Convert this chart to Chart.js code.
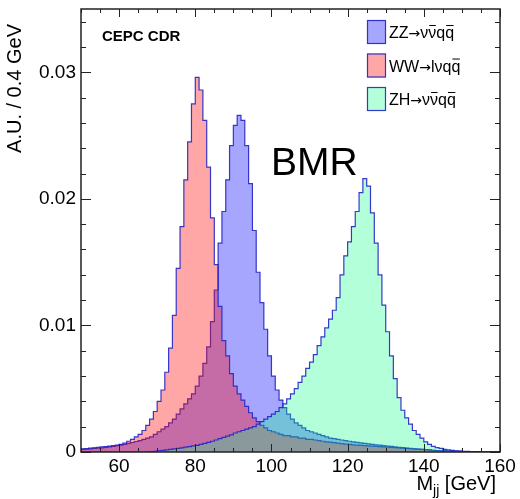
<!DOCTYPE html>
<html>
<head>
<meta charset="utf-8">
<script src="https://cdn.jsdelivr.net/npm/chart.js@4.4.0/dist/chart.umd.min.js"></script>
<style>
  html, body { margin: 0; padding: 0; background: #fff; }
</style>
</head>
<body>
<canvas id="mjj" width="520" height="499"></canvas>
<script>
// dijet mass, 1 GeV bins from 50 to 160 GeV, heights in A.U. / 0.4 GeV
const binLow = 50;
const binHigh = 160;

const zzVals = [
  0.0002, 0.00022, 0.00025, 0.00028, 0.0003, 0.00033, 0.00036, 0.0004, 0.00045, 0.0005,
  0.00055, 0.0006, 0.00068, 0.00075, 0.00083, 0.0009, 0.001, 0.0011, 0.0012, 0.0014,
  0.0016, 0.0018, 0.002, 0.0023, 0.0026, 0.003, 0.0034, 0.0038, 0.0042, 0.0046,
  0.0052, 0.006, 0.007, 0.0083, 0.0103, 0.0128, 0.0165, 0.019, 0.0215, 0.0242,
  0.0258, 0.0266, 0.0262, 0.0242, 0.0212, 0.0175, 0.0142, 0.0118, 0.0097, 0.0076,
  0.006, 0.0049, 0.0041, 0.0035, 0.003, 0.0026, 0.0023, 0.0021, 0.0019, 0.0017,
  0.0016, 0.0015, 0.0014, 0.0013, 0.0012, 0.0011, 0.00105, 0.001, 0.00095, 0.0009,
  0.00085, 0.0008, 0.00076, 0.00072, 0.00068, 0.00064, 0.0006, 0.00057, 0.00054, 0.0005,
  0.00047, 0.00044, 0.0004, 0.00037, 0.00034, 0.00031, 0.00028, 0.00025, 0.00022, 0.0002,
  0.00018, 0.00016, 0.00014, 0.00012, 0.0001, 0.00009, 0.00008, 0.00007, 0.00006, 0.00005,
  0.00004, 0.00004, 0.00003, 0.00003, 0.00003, 0.00002, 0.00002, 0.00002, 0.00002, 0.00002
];

const wwVals = [
  0.00025, 0.00027, 0.0003, 0.00033, 0.00036, 0.0004, 0.00043, 0.00046, 0.0005, 0.00055,
  0.0006, 0.0007, 0.00085, 0.001, 0.0012, 0.0014, 0.0017, 0.0021, 0.0026, 0.0032,
  0.004, 0.0049, 0.0063, 0.0082, 0.0108, 0.0145, 0.0178, 0.0215, 0.0245, 0.0275,
  0.0296, 0.0286, 0.0262, 0.0225, 0.0185, 0.0148, 0.0115, 0.0088, 0.0076, 0.0062,
  0.0052, 0.0046, 0.0041, 0.0036, 0.0031, 0.0027, 0.0024, 0.0021, 0.0019, 0.0017,
  0.0016, 0.0015, 0.0014, 0.0013, 0.0013, 0.0012, 0.0012, 0.0011, 0.0011, 0.001,
  0.001, 0.00095, 0.0009, 0.00085, 0.0008, 0.00078, 0.00074, 0.0007, 0.00066, 0.00062,
  0.0006, 0.00057, 0.00055, 0.00053, 0.0005, 0.00048, 0.00046, 0.00044, 0.00042, 0.0004,
  0.00038, 0.00036, 0.00034, 0.00032, 0.0003, 0.00028, 0.00026, 0.00024, 0.00022, 0.0002,
  0.00018, 0.00016, 0.00014, 0.00012, 0.0001, 0.00009, 0.00008, 0.00007, 0.00006, 0.00005,
  0.00004, 0.00004, 0.00003, 0.00003, 0.00003, 0.00002, 0.00002, 0.00002, 0.00002, 0.00002
];

const zhVals = [
  0, 0, 0, 0, 0, 0, 0, 0, 0, 0,
  0, 0, 0, 0, 0, 0, 0, 0, 0.00003, 0.00006,
  0.0001, 0.00013, 0.00016, 0.0002, 0.00024, 0.00028, 0.00033, 0.00038, 0.00043, 0.00048,
  0.00053, 0.0006, 0.00068, 0.00076, 0.00085, 0.00095, 0.00105, 0.00115, 0.00125, 0.00135,
  0.0015, 0.0016, 0.0017, 0.0018, 0.0019, 0.002, 0.0022, 0.0024, 0.0026, 0.0028,
  0.003, 0.0032, 0.0035, 0.0038, 0.0042, 0.0046, 0.005, 0.0055, 0.006, 0.0066,
  0.0071, 0.0077, 0.0084, 0.0091, 0.0098, 0.0105, 0.0112, 0.0122, 0.014, 0.0155,
  0.0166, 0.0178, 0.019, 0.0205, 0.0216, 0.021, 0.0189, 0.0165, 0.014, 0.0116,
  0.0095, 0.0076, 0.0058, 0.0043, 0.0033, 0.0027, 0.0022, 0.0017, 0.0014, 0.0011,
  0.0008, 0.0006, 0.00045, 0.00035, 0.00028, 0.0002, 0.00016, 0.00013, 0.0001, 0.00008,
  0.00006, 0.00005, 0.00004, 0.00003, 0.00003, 0.00002, 0.00002, 0.00001, 0.00001, 0.00001
];

const seriesNames = ['ZZ\u2192\u03bd\u03bd\u0305qq\u0305', 'WW\u2192l\u03bdqq\u0305', 'ZH\u2192\u03bd\u03bd\u0305qq\u0305'];
const xTicks = [60, 80, 100, 120, 140, 160];
const yTicks = [0, 0.01, 0.02, 0.03];

const FONT = '"Liberation Sans", Arial, Helvetica, sans-serif';
const lineCol = 'rgba(35,35,200,0.9)';

// bin edges -> step points
function toSteps(vals) {
  const w = (binHigh - binLow) / vals.length;
  const pts = vals.map((v, i) => ({ x: binLow + i * w, y: v }));
  pts.push({ x: binHigh, y: vals[vals.length - 1] });
  return pts;
}

// order: higher is drawn first, so ZZ sits at the bottom and ZH on top
function hist(label, vals, fill, order) {
  return {
    label: label,
    data: toSteps(vals),
    order: order,
    stepped: 'before',
    fill: 'origin',
    backgroundColor: fill,
    borderColor: lineCol,
    borderWidth: 1.2,
    pointRadius: 0,
    tension: 0
  };
}

// text with combining overline (U+0305) drawn as a bar
function drawBarred(ctx, s, x, y, size) {
  const chars = Array.from(s);
  const base = ctx.font;
  for (let i = 0; i < chars.length; i++) {
    const c = chars[i];
    if (c === '\u0305') continue;
    if (c === '\u2192') {
      ctx.font = (size - 2) + 'px "DejaVu Sans", sans-serif';
    }
    const w = ctx.measureText(c).width;
    ctx.fillText(c, x, y);
    ctx.font = base;
    if (chars[i + 1] === '\u0305') {
      ctx.beginPath();
      ctx.lineWidth = 1;
      ctx.moveTo(x + 1, y - size * 0.78);
      ctx.lineTo(x + w - 0.5, y - size * 0.78);
      ctx.stroke();
    }
    x += w;
  }
}

const decor = {
  id: 'decor',
  afterDatasetsDraw(chart) {
    const { ctx, chartArea: a, scales: { x, y } } = chart;
    ctx.save();
    ctx.strokeStyle = '#222';
    ctx.lineWidth = 1;
    ctx.beginPath();
    for (let k = 0; k <= 17; k++) {
      const py = Math.round(y.getPixelForValue(k * 0.002)) + 0.5;
      const len = k % 5 === 0 ? 10 : 5;
      ctx.moveTo(a.left, py); ctx.lineTo(a.left + len, py);
      ctx.moveTo(a.right, py); ctx.lineTo(a.right - len, py);
    }
    for (let k = 0; k <= 22; k++) {
      const v = binLow + k * 5;
      const px = Math.round(x.getPixelForValue(v)) + 0.5;
      const len = v % 20 === 0 ? 8 : 4;
      ctx.moveTo(px, a.bottom); ctx.lineTo(px, a.bottom - len);
      ctx.moveTo(px, a.top); ctx.lineTo(px, a.top + len);
    }
    ctx.stroke();
    ctx.lineWidth = 1.5;
    ctx.strokeRect(a.left, a.top, a.right - a.left, a.bottom - a.top);
    ctx.restore();
  },
  afterDraw(chart) {
    const ctx = chart.ctx;
    ctx.save();
    ctx.fillStyle = '#000';
    ctx.strokeStyle = '#000';
    ctx.textBaseline = 'alphabetic';

    ctx.font = 'bold 15px ' + FONT;
    ctx.fillText('CEPC CDR', 102, 41);

    ctx.font = '39px ' + FONT;
    ctx.fillText('BMR', 271, 175);

    // y title, ROOT style: aligned to the top of the axis
    ctx.save();
    ctx.translate(21, 24);
    ctx.rotate(-Math.PI / 2);
    ctx.font = '20px ' + FONT;
    ctx.textAlign = 'right';
    ctx.fillText('A.U. / 0.4 GeV', 0, 0);
    ctx.restore();

    // x title M_jj [GeV]
    ctx.font = '20px ' + FONT;
    const wM = ctx.measureText('M').width;
    const wG = ctx.measureText(' [GeV]').width;
    ctx.font = '14px ' + FONT;
    const wJ = ctx.measureText('jj').width;
    let tx = 496 - wM - wJ - wG;
    ctx.font = '20px ' + FONT;
    ctx.fillText('M', tx, 490);
    tx += wM;
    ctx.font = '14px ' + FONT;
    ctx.fillText('jj', tx, 495);
    tx += wJ;
    ctx.font = '20px ' + FONT;
    ctx.fillText(' [GeV]', tx, 490);

    // legend
    ctx.font = '16px ' + FONT;
    chart.data.datasets.forEach((ds, i) => {
      const by = 20 + i * 33.5;
      ctx.fillStyle = '#fff';
      ctx.fillRect(367, by, 19, 24);
      ctx.fillStyle = ds.backgroundColor;
      ctx.fillRect(367, by, 19, 24);
      ctx.strokeStyle = lineCol;
      ctx.lineWidth = 1.2;
      ctx.strokeRect(367.5, by + 0.5, 18, 23);
      ctx.fillStyle = '#000';
      ctx.strokeStyle = '#000';
      drawBarred(ctx, ds.label, 389, by + 18, 16);
    });
    ctx.restore();
  }
};

const ctx = document.getElementById('mjj').getContext('2d');
const mjjChart = new Chart(ctx, {
  type: 'line',
  data: {
    datasets: [
      hist(seriesNames[0], zzVals, 'rgba(0,0,255,0.35)', 2),
      hist(seriesNames[1], wwVals, 'rgba(255,0,0,0.35)', 1),
      hist(seriesNames[2], zhVals, 'rgba(0,255,128,0.3)', 0)
    ]
  },
  options: {
    responsive: false,
    animation: false,
    devicePixelRatio: 1,
    layout: { padding: { top: 9, right: 20, left: 0, bottom: 0 } },
    plugins: { legend: { display: false }, tooltip: { enabled: false } },
    scales: {
      x: {
        type: 'linear',
        min: binLow,
        max: binHigh,
        grid: { display: false, drawTicks: false },
        border: { display: false },
        afterBuildTicks: s => { s.ticks = xTicks.map(v => ({ value: v })); },
        afterFit: s => { s.height = 47; s.paddingLeft = 0; s.paddingRight = 0; },
        ticks: {
          padding: 3,
          maxRotation: 0,
          color: '#000',
          font: { family: FONT, size: 19 },
          callback: v => String(v)
        }
      },
      y: {
        min: 0,
        max: 0.035,
        grid: { display: false, drawTicks: false },
        border: { display: false },
        afterBuildTicks: s => { s.ticks = yTicks.map(v => ({ value: v })); },
        afterFit: s => { s.width = 81; s.paddingTop = 0; s.paddingBottom = 0; },
        ticks: {
          padding: 5,
          color: '#000',
          font: { family: FONT, size: 19 },
          callback: v => (v === 0 ? '0' : v.toFixed(2))
        }
      }
    }
  },
  plugins: [decor]
});
</script>
</body>
</html>
